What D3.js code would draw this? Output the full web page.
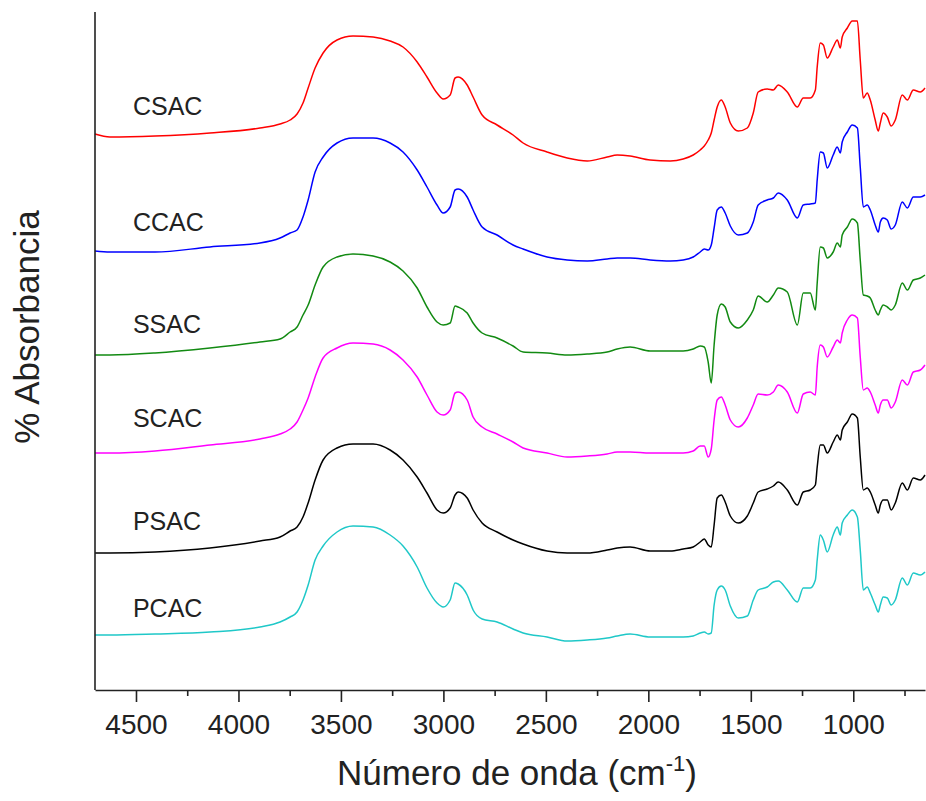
<!DOCTYPE html>
<html>
<head>
<meta charset="utf-8">
<script src="https://cdn.jsdelivr.net/npm/d3@7"></script>
<style>
  html, body { margin: 0; padding: 0; background: #fff; }
  svg { display: block; font-family: "Liberation Sans", Arial, sans-serif; }
</style>
</head>
<body>
<svg id="chart" width="926" height="801"></svg>
<script>
// FTIR spectra of the six activated carbons, stacked vertically (arbitrary absorbance units).
const wavenumbers = [
  4700, 4627, 4407, 4139, 3895, 3797, 3748, 3714, 3685, 3660,
  3626, 3587, 3519, 3441, 3343, 3260, 3197, 3128, 3080, 3031,
  3001, 2967, 2943, 2928, 2884, 2855, 2811, 2738, 2660, 2611,
  2494, 2396, 2298, 2201, 2152, 2089, 1991, 1893, 1830, 1781,
  1747, 1727, 1708, 1693, 1679, 1664, 1644, 1625, 1600, 1561,
  1517, 1488, 1464, 1420, 1390, 1366, 1322, 1273, 1244, 1210,
  1185, 1176, 1161, 1146, 1127, 1098, 1078, 1063, 1054, 1029,
  1005, 980, 966, 951, 932, 917, 893, 878, 868, 854,
  834, 815, 795, 761, 736, 707, 673, 650
];

const csac = [
  556, 553, 554, 557, 562, 566, 570, 576, 587, 602,
  622, 637, 650, 654, 653, 649, 643, 628, 613, 597,
  591, 595, 612, 613, 605, 593, 575, 565, 555, 547,
  538, 532, 529, 533, 535, 534, 530, 529, 531, 535,
  540, 544, 550, 557, 570, 583, 590, 583, 567, 559,
  562, 577, 598, 601, 600, 605, 598, 583, 592, 592,
  600, 623, 647, 645, 632, 643, 650, 642, 653, 662,
  669, 669, 630, 592, 597, 590, 570, 559, 567, 577,
  573, 564, 570, 595, 590, 600, 598, 602
];

const ccac = [
  439, 438, 438, 443, 447, 452, 457, 460, 473, 490,
  518, 533, 547, 552, 552, 547, 538, 520, 503, 485,
  477, 483, 500, 501, 493, 480, 463, 455, 445, 441,
  433, 430, 429, 431, 432, 432, 430, 429, 430, 433,
  438, 441, 440, 445, 462, 480, 483, 477, 464, 455,
  457, 468, 485, 490, 492, 497, 490, 472, 485, 486,
  487, 510, 538, 537, 522, 535, 543, 537, 548, 558,
  565, 562, 523, 483, 485, 480, 465, 458, 468, 472,
  470, 461, 465, 488, 482, 493, 493, 495
];

const ssac = [
  335, 335, 337, 342, 348, 351, 358, 363, 375, 385,
  405, 423, 433, 436, 434, 428, 419, 402, 383, 368,
  365, 367, 384, 383, 377, 367, 357, 352, 344, 338,
  337, 335, 336, 338, 341, 343, 339, 339, 339, 341,
  344, 343, 328, 307, 345, 375, 386, 383, 368, 362,
  370, 380, 394, 388, 395, 402, 398, 365, 397, 397,
  380, 407, 443, 442, 432, 438, 447, 443, 455, 463,
  471, 467, 430, 395, 394, 392, 380, 375, 380, 385,
  383, 380, 385, 407, 400, 410, 412, 415
];

const scac = [
  237, 237, 239, 245, 251, 256, 261, 268, 280, 292,
  313, 332, 342, 347, 346, 340, 330, 313, 295, 278,
  275, 280, 297, 298, 290, 273, 263, 256, 248, 242,
  237, 233, 234, 236, 238, 238, 237, 237, 237, 239,
  244, 244, 233, 241, 270, 290, 293, 285, 270, 263,
  272, 285, 296, 295, 298, 305, 298, 277, 296, 298,
  295, 323, 345, 343, 333, 343, 350, 347, 357, 370,
  375, 372, 333, 300, 302, 298, 285, 277, 285, 290,
  290, 282, 288, 310, 305, 318, 320, 325
];

const psac = [
  137, 137, 138, 142, 149, 153, 159, 163, 173, 187,
  210, 230, 242, 246, 246, 240, 230, 213, 197, 180,
  177, 182, 195, 198, 192, 180, 167, 158, 150, 146,
  139, 137, 137, 140, 142, 143, 139, 139, 141, 143,
  148, 151, 145, 143, 165, 192, 195, 188, 174, 167,
  174, 187, 198, 201, 204, 208, 200, 185, 198, 200,
  205, 223, 245, 245, 237, 248, 255, 250, 260, 268,
  276, 272, 233, 200, 202, 198, 185, 177, 185, 190,
  190, 180, 187, 207, 200, 212, 210, 215
];

const pcac = [
  55, 55, 56, 58, 63, 68, 73, 78, 90, 105,
  130, 144, 158, 164, 163, 155, 144, 123, 102, 87,
  83, 90, 107, 106, 95, 80, 71, 68, 61, 57,
  53, 49, 50, 52, 54, 56, 53, 53, 53, 54,
  57, 58, 56, 57, 85, 100, 104, 100, 84, 72,
  74, 90, 100, 103, 108, 109, 100, 88, 102, 102,
  110, 130, 155, 150, 138, 155, 163, 155, 167, 175,
  180, 173, 140, 100, 103, 97, 85, 78, 85, 93,
  92, 85, 90, 112, 105, 117, 115, 118
];

const sampleNames = ["CSAC", "CCAC", "SSAC", "SCAC", "PSAC", "PCAC"];
const sampleValues = [csac, ccac, ssac, scac, psac, pcac];
const sampleColors = ["#ff0000", "#0000ff", "#128a12", "#ff00ff", "#000000", "#1fc8c8"];
// Level (in absorbance units) at which each sample's name is written
const labelLevels = [575, 459, 357, 263, 160, 73];
const labelWavenumber = 4515;

const majorTicks = [4500, 4000, 3500, 3000, 2500, 2000, 1500, 1000];
const minorTicks = [4250, 3750, 3250, 2750, 2250, 1750, 1250, 750];

const svg = d3.select("#chart");

const x = d3.scaleLinear().domain([4700, 650]).range([95, 925]);
const y = d3.scaleLinear().domain([0, 680]).range([690, 10]);

// spectra
const line = d3.line()
  .x(d => x(d[0]))
  .y(d => y(d[1]))
  .curve(d3.curveMonotoneX);

sampleNames.forEach((name, i) => {
  const pts = wavenumbers.map((w, j) => [w, sampleValues[i][j]]);
  svg.append("path")
    .datum(pts)
    .attr("fill", "none")
    .attr("stroke", sampleColors[i])
    .attr("stroke-width", 1.5)
    .attr("stroke-linejoin", "round")
    .attr("d", line);

  svg.append("text")
    .attr("x", x(labelWavenumber))
    .attr("y", y(labelLevels[i]))
    .attr("font-size", 25)
    .attr("fill", "#222")
    .text(name);
});

// bottom axis: labelled major ticks plus short minor ticks
const xAxis = svg.append("g")
  .attr("transform", "translate(0,690)")
  .call(d3.axisBottom(x).tickValues(majorTicks).tickSize(12).tickSizeOuter(0)
    .tickPadding(12).tickFormat(d3.format("d")));
xAxis.selectAll("text").attr("font-size", 28).attr("fill", "#222")
  .attr("font-family", "Liberation Sans, Arial, sans-serif");

const xMinor = svg.append("g")
  .attr("transform", "translate(0,690)")
  .call(d3.axisBottom(x).tickValues(minorTicks).tickSize(6).tickFormat(""));
xMinor.select(".domain").remove();

svg.selectAll(".domain, .tick line")
  .attr("stroke", "#222")
  .attr("stroke-width", 1.6);

// left axis line without ticks
svg.append("line")
  .attr("x1", 95).attr("x2", 95)
  .attr("y1", y(678)).attr("y2", y(0))
  .attr("stroke", "#222")
  .attr("stroke-width", 1.6);

// axis titles
const xTitle = svg.append("text")
  .attr("x", 517)
  .attr("y", 785)
  .attr("text-anchor", "middle")
  .attr("font-size", 35)
  .attr("fill", "#222");
xTitle.append("tspan").text("Número de onda (cm");
xTitle.append("tspan").attr("dy", -14).attr("font-size", 22).text("-1");
xTitle.append("tspan").attr("dy", 14).text(")");

svg.append("text")
  .attr("transform", "translate(39,327) rotate(-90)")
  .attr("text-anchor", "middle")
  .attr("font-size", 35)
  .attr("fill", "#222")
  .text("% Absorbancia");
</script>
</body>
</html>
